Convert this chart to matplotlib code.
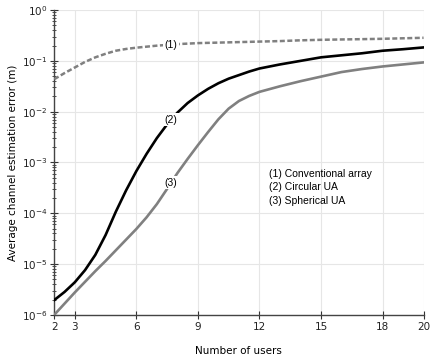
import matplotlib
matplotlib.use('Agg')
import matplotlib.pyplot as plt
import numpy as np
from matplotlib.ticker import LogLocator, NullFormatter

# number of users (half steps where the curves bend)
users = [2, 2.5, 3, 3.5, 4, 4.5, 5, 5.5, 6, 6.5, 7, 7.5, 8, 8.5, 9, 9.5, 10, 10.5,
         11, 11.5, 12, 13, 14, 15, 16, 17, 18, 19, 20]

# log10 of average channel estimation error
log_conv = [-1.36, -1.24, -1.13, -1.02, -0.93, -0.86, -0.80, -0.765, -0.74, -0.72,
            -0.70, -0.685, -0.67, -0.66, -0.65, -0.645, -0.64, -0.635, -0.63, -0.625,
            -0.62, -0.61, -0.595, -0.585, -0.578, -0.572, -0.565, -0.555, -0.545]
log_circ = [-5.71, -5.55, -5.36, -5.12, -4.82, -4.43, -3.97, -3.55, -3.17, -2.83,
            -2.52, -2.25, -2.02, -1.83, -1.68, -1.55, -1.44, -1.35, -1.28, -1.21,
            -1.15, -1.07, -1.00, -0.93, -0.89, -0.85, -0.80, -0.77, -0.735]
log_sph = [-6.0, -5.78, -5.56, -5.35, -5.14, -4.94, -4.73, -4.52, -4.31, -4.08,
           -3.82, -3.52, -3.21, -2.93, -2.66, -2.40, -2.15, -1.94, -1.79, -1.69,
           -1.61, -1.50, -1.40, -1.31, -1.22, -1.16, -1.11, -1.07, -1.03]

conv = 10 ** np.array(log_conv)
circ = 10 ** np.array(log_circ)
sph = 10 ** np.array(log_sph)

xticks = [2, 3, 6, 9, 12, 15, 18, 20]
yticks = [1e-6, 1e-5, 1e-4, 1e-3, 1e-2, 1e-1, 1]
curve_tags = ['(1)', '(2)', '(3)']
legend_lines = ['(1) Conventional array', '(2) Circular UA', '(3) Spherical UA']
tag_x = 7.7

fig = plt.figure(figsize=(4.36, 3.61), dpi=100)
ax = fig.add_axes([0.1245, 0.128, 0.847, 0.844])

gray = '#808080'
ax.plot(users, conv, color=gray, lw=1.8, ls=(0, (2, 1)), zorder=3)
ax.plot(users, circ, color='black', lw=1.9, zorder=3)
ax.plot(users, sph, color=gray, lw=1.9, zorder=3)

ax.set_yscale('log')
ax.set_xlim(2, 20)
ax.set_ylim(1e-6, 1)
ax.set_xticks(xticks)
ax.set_yticks(yticks)
ax.yaxis.set_minor_locator(LogLocator(base=10, subs=np.arange(2, 10), numticks=20))
ax.yaxis.set_minor_formatter(NullFormatter())

ax.grid(True, which='major', color='#e6e6e6', lw=0.8, zorder=0)
for s in ['top', 'right']:
    ax.spines[s].set_visible(False)
for s in ['left', 'bottom']:
    ax.spines[s].set_color('#444444')
    ax.spines[s].set_linewidth(1.0)

ax.tick_params(axis='both', which='major', direction='inout', length=6, width=0.8,
               color='#333333', labelsize=7.5, labelcolor='#222222', pad=2)
ax.tick_params(axis='y', which='minor', direction='inout', length=3, width=0.6,
               color='#333333', labelleft=False)

ax.set_xlabel('Number of users', fontsize=7.5, labelpad=10)
ax.set_ylabel('Average channel estimation error (m)', fontsize=7.5, labelpad=3)

# inline curve tags
for tag, series in zip(curve_tags, [log_conv, log_circ, log_sph]):
    yv = 10 ** np.interp(tag_x, users, series)
    ax.text(tag_x, yv, tag, ha='center', va='center', fontsize=7.5,
            family='Liberation Sans', zorder=4,
            bbox=dict(boxstyle='square,pad=0.15', fc='white', ec='none'))

ax.text(12.45, 10 ** -3.13, '\n'.join(legend_lines), ha='left', va='top',
        fontsize=7.5, family='Liberation Sans', linespacing=1.42, zorder=4)

fig.savefig('out.png', dpi=100)
